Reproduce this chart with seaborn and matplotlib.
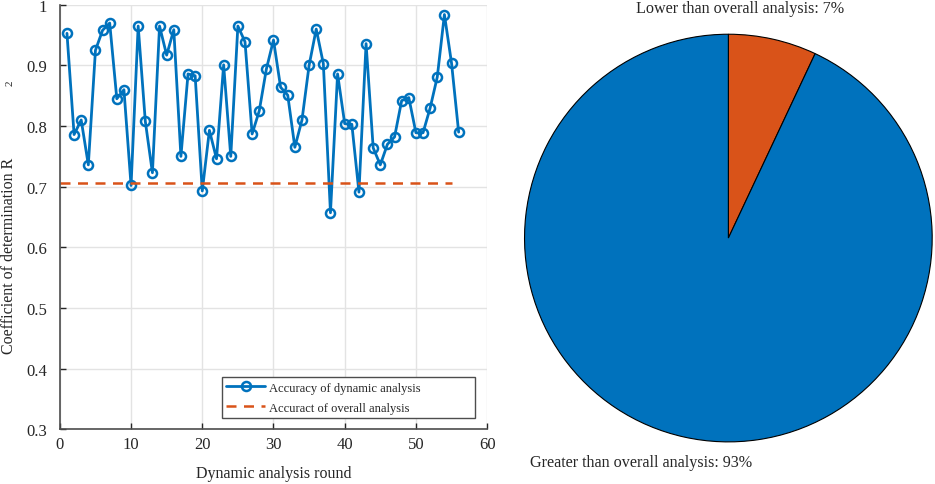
import matplotlib
matplotlib.use("Agg")
import matplotlib.pyplot as plt
from matplotlib.ticker import FuncFormatter
import seaborn as sns

# data
rounds = list(range(1, 57))
r2_dynamic = [
    0.953, 0.786, 0.810, 0.736, 0.925, 0.958, 0.970, 0.845, 0.860, 0.702,
    0.965, 0.808, 0.723, 0.965, 0.917, 0.959, 0.750, 0.886, 0.883, 0.693,
    0.793, 0.746, 0.901, 0.750, 0.965, 0.939, 0.787, 0.825, 0.894, 0.942,
    0.864, 0.851, 0.765, 0.810, 0.900, 0.960, 0.903, 0.657, 0.886, 0.804,
    0.803, 0.691, 0.936, 0.764, 0.736, 0.770, 0.782, 0.842, 0.847, 0.789,
    0.789, 0.830, 0.881, 0.984, 0.904, 0.790,
]
overall_x = [0, 55]
overall_r2 = [0.706, 0.706]

pie_labels = ["Lower than overall analysis: 7%", "Greater than overall analysis: 93%"]
pie_shares = [7, 93]

blue = "#0072BD"
orange = "#D95319"

sns.set_theme(style="white")
plt.rcParams["font.family"] = ["Liberation Serif", "DejaVu Serif"]

fig = plt.figure(figsize=(9.35, 4.85), dpi=100)

# line chart
ax = fig.add_axes([0.064, 0.113, 0.457, 0.875])
sns.lineplot(x=rounds, y=r2_dynamic, ax=ax, color=blue, lw=2, marker="o",
             markersize=6.5, markerfacecolor="none", markeredgecolor=blue,
             markeredgewidth=1.8, label="Accuracy of dynamic analysis")
sns.lineplot(x=overall_x, y=overall_r2, ax=ax, color=orange, lw=1.8,
             linestyle=(0, (4, 3)), label="Accuract of overall analysis")

ax.set_xlim(0, 60)
ax.set_ylim(0.3, 1.0)
ax.set_xticks(range(0, 61, 10))
ax.set_yticks([0.3, 0.4, 0.5, 0.6, 0.7, 0.8, 0.9, 1.0])
ax.yaxis.set_major_formatter(FuncFormatter(lambda v, p: f"{v:g}"))
ax.grid(True, color="#e3e3e3", lw=1)
for side in ["top", "right"]:
    ax.spines[side].set_visible(False)
for side in ["left", "bottom"]:
    ax.spines[side].set_color("#4d4d4d")
    ax.spines[side].set_linewidth(1.2)
ax.tick_params(direction="in", length=4, width=1, colors="#262626",
               labelsize=12, bottom=True, left=True)
ax.tick_params(axis="x", pad=5)
ax.tick_params(axis="y", pad=9)
ax.set_xlabel("Dynamic analysis round", fontsize=11.5, labelpad=9)
# the superscript sits apart from the label in the original figure
ax.set_ylabel("Coefficient of determination R", fontsize=11.5)
ax.yaxis.set_label_coords(-0.10, 0.41)
fig.text(10 / 935, 1 - 83 / 485, "2", rotation=90, fontsize=8,
         ha="center", va="center")

leg = ax.legend(loc="lower left", bbox_to_anchor=(0.379, 0.026, 0.593, 0.102),
                mode="expand", borderaxespad=0, fontsize=9, frameon=True,
                fancybox=False, framealpha=1, borderpad=0.35,
                handlelength=3.1, handletextpad=0.3, labelspacing=0.65)
leg.get_frame().set_edgecolor("#4d4d4d")
leg.get_frame().set_linewidth(1.0)

# pie chart
ax2 = fig.add_axes([0.561, 0.0866, 0.436, 0.841])
ax2.pie(pie_shares, colors=[orange, blue], startangle=90, counterclock=False,
        radius=1, wedgeprops=dict(edgecolor="black", linewidth=0.8))
ax2.set_xlim(-1, 1)
ax2.set_ylim(-1, 1)
ax2.set_aspect("equal")
ax2.axis("off")
ax2.text(0.055, 1.13, pie_labels[0], ha="center", va="center",
         fontsize=11.6, clip_on=False)
ax2.text(-0.43, -1.098, pie_labels[1], ha="center", va="center",
         fontsize=11.6, clip_on=False)

fig.savefig("out.png", dpi=100)
